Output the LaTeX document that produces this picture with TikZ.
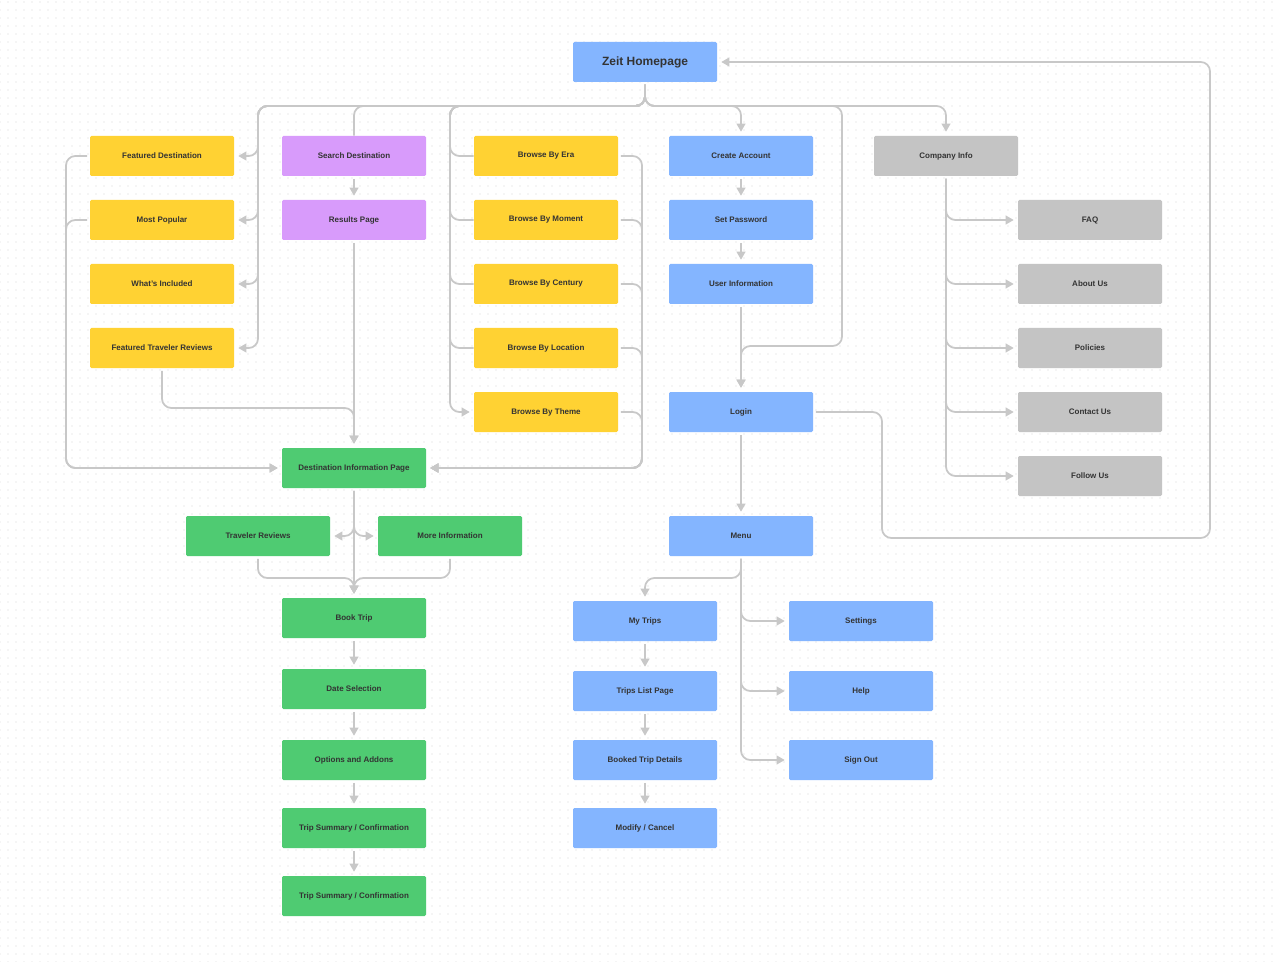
\documentclass[tikz,border=0pt]{standalone}
\usepackage{fontspec}
\setmainfont{Liberation Sans}
\usepackage{xcolor}
\usepackage{tikz}
\usetikzlibrary{arrows.meta,patterns.meta}

\definecolor{zyellow}{HTML}{FFD233}
\definecolor{zpurple}{HTML}{D89BFB}
\definecolor{zblue}{HTML}{84B5FF}
\definecolor{zgreen}{HTML}{4FCB72}
\definecolor{zgray}{HTML}{C4C4C4}
\definecolor{zline}{HTML}{C8C8C8}
\definecolor{ztext}{HTML}{333333}
\definecolor{zdots}{HTML}{EBEBEB}

\tikzdeclarepattern{
  name=griddots,
  type=uncolored,
  bounding box={(-3pt,-3pt) and (3pt,3pt)},
  tile size={(6pt,6pt)},
  code={\fill (0pt,0pt) circle (0.6pt);}
}

\tikzset{
  page/.style={rectangle, rounded corners=1pt, minimum width=108pt, minimum height=30pt,
    inner sep=0pt, text=ztext, font=\bfseries\fontsize{6}{7}\selectfont},
  yellowpage/.style={page, fill=zyellow},
  purplepage/.style={page, fill=zpurple},
  bluepage/.style={page, fill=zblue},
  greenpage/.style={page, fill=zgreen},
  graypage/.style={page, fill=zgray},
  link/.style={draw=zline, line width=1.3pt, rounded corners=7pt, shorten <=2pt},
  golink/.style={link, -{Triangle[length=6pt,width=6.5pt]}, shorten >=3pt},
}

\begin{document}
\begin{tikzpicture}[x=0.75pt, y=-0.75pt]
	\fill[white] (0,0) rectangle (1277,962);
	\fill[pattern=griddots, pattern color=zdots] (0,0) rectangle (1277,962);
	\useasboundingbox (0,0) rectangle (1277,962);

	% pages
	\node[bluepage, font=\bfseries\fontsize{9}{11}\selectfont] (home) at (645,62) {Zeit Homepage};

	\node[yellowpage] (featdest) at (162,156) {Featured Destination};
	\node[yellowpage] (mostpop) at (162,220) {Most Popular};
	\node[yellowpage] (whatsinc) at (162,284) {What's Included};
	\node[yellowpage] (featrev) at (162,348) {Featured Traveler Reviews};

	\node[purplepage] (search) at (354,156) {Search Destination};
	\node[purplepage] (results) at (354,220) {Results Page};

	\node[yellowpage] (era) at (546,156) {Browse By Era};
	\node[yellowpage] (moment) at (546,220) {Browse By Moment};
	\node[yellowpage] (century) at (546,284) {Browse By Century};
	\node[yellowpage] (location) at (546,348) {Browse By Location};
	\node[yellowpage] (theme) at (546,412) {Browse By Theme};

	\node[bluepage] (create) at (741,156) {Create Account};
	\node[bluepage] (setpw) at (741,220) {Set Password};
	\node[bluepage] (userinfo) at (741,284) {User Information};
	\node[bluepage] (login) at (741,412) {Login};
	\node[bluepage] (menu) at (741,536) {Menu};

	\node[graypage] (company) at (946,156) {Company Info};
	\node[graypage] (faq) at (1090,220) {FAQ};
	\node[graypage] (about) at (1090,284) {About Us};
	\node[graypage] (policies) at (1090,348) {Policies};
	\node[graypage] (contact) at (1090,412) {Contact Us};
	\node[graypage] (follow) at (1090,476) {Follow Us};

	\node[greenpage] (destinfo) at (354,468) {Destination Information Page};
	\node[greenpage] (travrev) at (258,536) {Traveler Reviews};
	\node[greenpage] (moreinfo) at (450,536) {More Information};
	\node[greenpage] (book) at (354,618) {Book Trip};
	\node[greenpage] (date) at (354,689) {Date Selection};
	\node[greenpage] (options) at (354,760) {Options and Addons};
	\node[greenpage] (summary) at (354,828) {Trip Summary / Confirmation};
	\node[greenpage] (summarytwo) at (354,896) {Trip Summary / Confirmation};

	\node[bluepage] (mytrips) at (645,621) {My Trips};
	\node[bluepage] (tripslist) at (645,691) {Trips List Page};
	\node[bluepage] (booked) at (645,760) {Booked Trip Details};
	\node[bluepage] (modify) at (645,828) {Modify / Cancel};
	\node[bluepage] (settings) at (861,621) {Settings};
	\node[bluepage] (help) at (861,691) {Help};
	\node[bluepage] (signout) at (861,760) {Sign Out};

	% from the homepage
	\draw[golink] (home.south) |- (258,106) |- (featdest.east);
	\draw[golink] (home.south) |- (258,106) |- (mostpop.east);
	\draw[golink] (home.south) |- (258,106) |- (whatsinc.east);
	\draw[golink] (home.south) |- (258,106) |- (featrev.east);
	\draw[link] (home.south) |- (354,106) -- (search.north);
	\draw[link] (home.south) |- (450,106) |- (era.west);
	\draw[link] (home.south) |- (450,106) |- (moment.west);
	\draw[link] (home.south) |- (450,106) |- (century.west);
	\draw[link] (home.south) |- (450,106) |- (location.west);
	\draw[golink] (home.south) |- (450,106) |- (theme.west);
	\draw[golink] (home.south) |- (741,106) -- (create.north);
	\draw[golink] (home.south) |- (842,106) |- (741,346) -- (login.north);
	\draw[golink] (home.south) |- (946,106) -- (company.north);

	% destination pages
	\draw[golink] (search) -- (results);
	\draw[golink] (results) -- (destinfo);
	\draw[golink] (featrev.south) |- (354,408) -- (destinfo.north);
	\draw[golink] (featdest.west) -| (66,468) -- (destinfo.west);
	\draw[golink] (mostpop.west) -| (66,468) -- (destinfo.west);
	\draw[golink] (era.east) -| (642,468) -- (destinfo.east);
	\draw[golink] (moment.east) -| (642,468) -- (destinfo.east);
	\draw[golink] (century.east) -| (642,468) -- (destinfo.east);
	\draw[golink] (location.east) -| (642,468) -- (destinfo.east);
	\draw[golink] (theme.east) -| (642,468) -- (destinfo.east);

	% booking
	\draw[golink] (destinfo.south) |- (travrev.east);
	\draw[golink] (destinfo.south) |- (moreinfo.west);
	\draw[golink] (destinfo) -- (book);
	\draw[golink] (travrev.south) |- (354,578) -- (book.north);
	\draw[golink] (moreinfo.south) |- (354,578) -- (book.north);
	\draw[golink] (book) -- (date);
	\draw[golink] (date) -- (options);
	\draw[golink] (options) -- (summary);
	\draw[golink] (summary) -- (summarytwo);

	% account
	\draw[golink] (create) -- (setpw);
	\draw[golink] (setpw) -- (userinfo);
	\draw[golink] (userinfo) -- (login);
	\draw[golink] (login.east) -| (882,538) -| (1210,62) -- (home.east);
	\draw[golink] (login) -- (menu);
	\draw[golink] (menu.south) |- (645,578) -- (mytrips.north);
	\draw[golink] (menu.south) |- (settings.west);
	\draw[golink] (menu.south) |- (help.west);
	\draw[golink] (menu.south) |- (signout.west);
	\draw[golink] (mytrips) -- (tripslist);
	\draw[golink] (tripslist) -- (booked);
	\draw[golink] (booked) -- (modify);

	% company
	\draw[golink] (company.south) |- (faq.west);
	\draw[golink] (company.south) |- (about.west);
	\draw[golink] (company.south) |- (policies.west);
	\draw[golink] (company.south) |- (contact.west);
	\draw[golink] (company.south) |- (follow.west);
\end{tikzpicture}
\end{document}
